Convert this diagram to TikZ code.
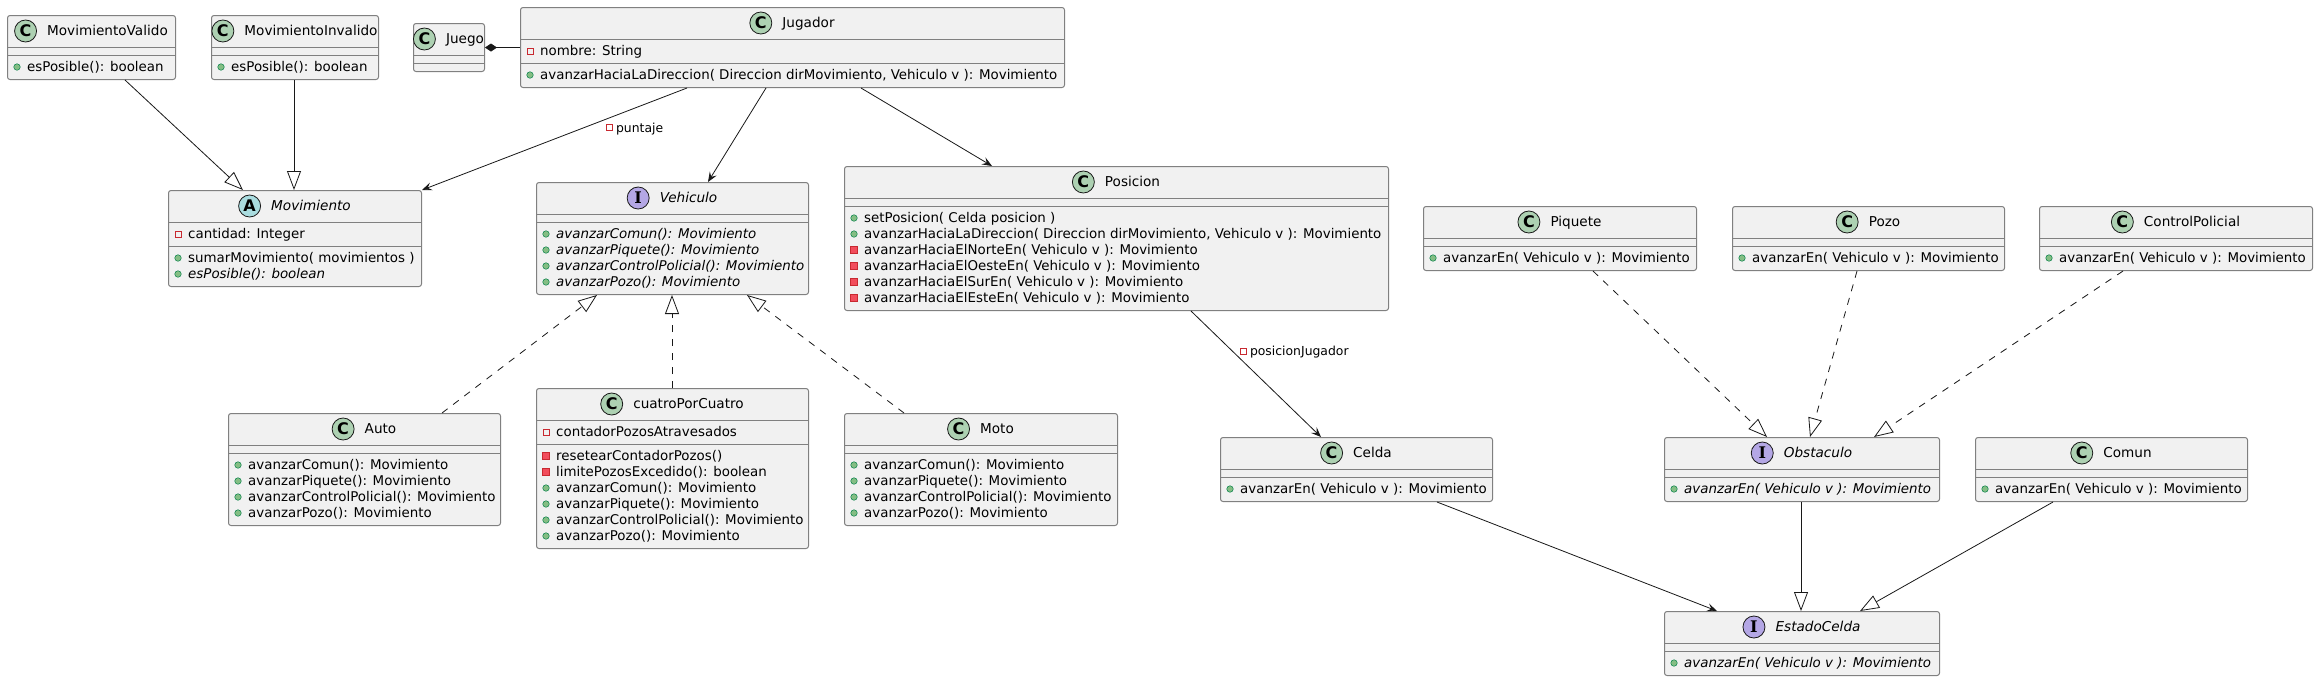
\documentclass[tikz,border=0pt]{standalone}
\usepackage{fontspec}
\setmainfont{DejaVu Sans}
\newfontfamily\iconserif{DejaVu Serif}
\usetikzlibrary{arrows.meta, positioning, shapes.geometric}

\definecolor{boxfill}{HTML}{F1F1F1}
\definecolor{boxline}{HTML}{181818}
\definecolor{clsC}{HTML}{ADD1B2}
\definecolor{clsI}{HTML}{B4A7E5}
\definecolor{clsA}{HTML}{A9DCDF}
\definecolor{pubfill}{HTML}{84BE84}
\definecolor{publine}{HTML}{038048}
\definecolor{privfill}{HTML}{F24D5C}
\definecolor{privline}{HTML}{C82930}

\tikzset{
  classbox/.style={draw=black!50, fill=boxfill, line width=1pt, rounded corners=2.5pt, inner sep=0pt},
  sepline/.style={draw=black!50, line width=1pt},
  clstitle/.style={inner sep=0pt, text height=9pt, text depth=0pt, font=\fontsize{13.6}{16}\selectfont},
  icon/.style={circle, draw=boxline, line width=0.8pt, minimum size=22pt, inner sep=0pt, font=\fontsize{16}{16}\selectfont\bfseries},
  iconC/.style={icon, fill=clsC},
  iconA/.style={icon, fill=clsA},
  iconI/.style={icon, fill=clsI, font=\fontsize{16}{16}\selectfont\iconserif\bfseries},
  member/.style={anchor=base west, inner sep=0pt, font=\fontsize{13.4}{16}\selectfont},
  vis pub/.style={circle, fill=pubfill, draw=publine, line width=0.5pt, minimum size=6.5pt, inner sep=0pt},
  vis priv/.style={rectangle, draw=privline, line width=0.8pt, minimum size=6pt, inner sep=0pt},
  vis privm/.style={rectangle, fill=privfill, draw=privline, line width=0.5pt, minimum size=7pt, inner sep=0pt},
  assoc/.style={draw=boxline, line width=0.8pt, -{Stealth[length=10pt, width=8pt, inset=4pt]}},
  extends/.style={draw=boxline, line width=0.8pt, -{Triangle[length=19pt, width=14pt, fill=white]}},
  realizes/.style={extends, dash pattern=on 7pt off 7pt},
  comp/.style={draw=boxline, line width=0.8pt, {Diamond[length=12pt, width=8pt]}-},
  edgelabel/.style={anchor=west, inner sep=0pt, text height=9pt, text depth=0pt, font=\fontsize{12.4}{14}\selectfont},
}

% #1 name, #2 top left, #3 width, #4 kind, #5 title, #6/#7 fields, #8/#9 methods
\newcommand{\umlclass}[9]{%
  \pgfmathsetmacro{\clsHA}{#6>0 ? 16*#6+8 : 8}%
  \pgfmathsetmacro{\clsHM}{#8>0 ? 16*#8+8 : 8}%
  \pgfmathsetmacro{\clsH}{32+\clsHA+\clsHM}%
  \node[classbox, minimum width=#3pt, minimum height=\clsH pt, anchor=north west] (#1) at (#2) {};
  \node[clstitle] (#1-name) at ([xshift=16pt, yshift=-16pt]#1.north) {#5};
  \node[icon#4, left=10pt of #1-name] (#1-icon) {#4};
  \draw[sepline] ([yshift=-32pt]#1.north west) -- ([yshift=-32pt]#1.north east);
  \draw[sepline] ([yshift=-32pt-\clsHA pt]#1.north west) -- ([yshift=-32pt-\clsHA pt]#1.north east);
  \ifnum#6>0
    \foreach \vis/\txt [count=\k from 0] in {#7}{
      \node[vis \vis] at ([xshift=10pt, yshift={-44pt-16pt*\k}]#1.north west) {};
      \node[member] at ([xshift=20pt, yshift={-48.5pt-16pt*\k}]#1.north west) {\txt};
    }
  \fi
  \ifnum#8>0
    \foreach \vis/\txt [count=\k from 0] in {#9}{
      \node[vis \vis] at ([xshift=10pt, yshift={-44pt-\clsHA pt-16pt*\k}]#1.north west) {};
      \node[member] at ([xshift=20pt, yshift={-48.5pt-\clsHA pt-16pt*\k}]#1.north west) {\txt};
    }
  \fi
}

\begin{document}
\begin{tikzpicture}[x=1pt, y=-1pt]
\fill[white] (0,0) rectangle (2318,681);

\umlclass{movvalido}{7,15}{168}{C}{MovimientoValido}{0}{}{1}{pub/esPosible(): boolean}
\umlclass{movinvalido}{211,15}{167}{C}{MovimientoInvalido}{0}{}{1}{pub/esPosible(): boolean}
\umlclass{juego}{413,23}{71}{C}{Juego}{0}{}{0}{}
\umlclass{jugador}{520,7}{544}{C}{Jugador}{1}{priv/nombre: String}{1}{
  pub/{avanzarHaciaLaDireccion( Direccion dirMovimiento, Vehiculo v ): Movimiento}}
\umlclass{movimiento}{168,190}{253}{A}{\itshape Movimiento}{1}{priv/cantidad: Integer}{2}{
  pub/sumarMovimiento( movimientos ),
  pub/\itshape esPosible(): boolean}
\umlclass{vehiculo}{536,182}{272}{I}{\itshape Vehiculo}{0}{}{4}{
  pub/\itshape avanzarComun(): Movimiento,
  pub/\itshape avanzarPiquete(): Movimiento,
  pub/\itshape avanzarControlPolicial(): Movimiento,
  pub/\itshape avanzarPozo(): Movimiento}
\umlclass{posicion}{844,166}{544}{C}{Posicion}{0}{}{6}{
  pub/setPosicion( Celda posicion ),
  pub/{avanzarHaciaLaDireccion( Direccion dirMovimiento, Vehiculo v ): Movimiento},
  privm/avanzarHaciaElNorteEn( Vehiculo v ): Movimiento,
  privm/avanzarHaciaElOesteEn( Vehiculo v ): Movimiento,
  privm/avanzarHaciaElSurEn( Vehiculo v ): Movimiento,
  privm/avanzarHaciaElEsteEn( Vehiculo v ): Movimiento}
\umlclass{auto}{228,413}{272}{C}{Auto}{0}{}{4}{
  pub/avanzarComun(): Movimiento,
  pub/avanzarPiquete(): Movimiento,
  pub/avanzarControlPolicial(): Movimiento,
  pub/avanzarPozo(): Movimiento}
\umlclass{cuatro}{536,388}{272}{C}{cuatroPorCuatro}{1}{priv/contadorPozosAtravesados}{6}{
  privm/resetearContadorPozos(),
  privm/limitePozosExcedido(): boolean,
  pub/avanzarComun(): Movimiento,
  pub/avanzarPiquete(): Movimiento,
  pub/avanzarControlPolicial(): Movimiento,
  pub/avanzarPozo(): Movimiento}
\umlclass{moto}{844,413}{273}{C}{Moto}{0}{}{4}{
  pub/avanzarComun(): Movimiento,
  pub/avanzarPiquete(): Movimiento,
  pub/avanzarControlPolicial(): Movimiento,
  pub/avanzarPozo(): Movimiento}
\umlclass{piquete}{1423,206}{273}{C}{Piquete}{0}{}{1}{pub/avanzarEn( Vehiculo v ): Movimiento}
\umlclass{pozo}{1732,206}{272}{C}{Pozo}{0}{}{1}{pub/avanzarEn( Vehiculo v ): Movimiento}
\umlclass{control}{2039,206}{273}{C}{ControlPolicial}{0}{}{1}{pub/avanzarEn( Vehiculo v ): Movimiento}
\umlclass{celda}{1220,437}{272}{C}{Celda}{0}{}{1}{pub/avanzarEn( Vehiculo v ): Movimiento}
\umlclass{obstaculo}{1664,437}{275}{I}{\itshape Obstaculo}{0}{}{1}{pub/\itshape avanzarEn( Vehiculo v ): Movimiento}
\umlclass{comun}{1975,437}{272}{C}{Comun}{0}{}{1}{pub/avanzarEn( Vehiculo v ): Movimiento}
\umlclass{estado}{1664,611}{275}{I}{\itshape EstadoCelda}{0}{}{1}{pub/\itshape avanzarEn( Vehiculo v ): Movimiento}

% relations
\draw[extends] (movvalido.south -| 125,0) -- (movimiento.north -| 243,0);
\draw[extends] (movinvalido.south -| 294,0) -- (movimiento.north -| 294,0);
\draw[comp] (juego.east) -- (jugador.west |- juego.east);
\draw[assoc] (jugador.south -| 687,0) -- node[edgelabel, pos=.39, xshift=32pt] (lblpuntaje) {puntaje} (movimiento.north east);
\node[vis priv, left=3pt of lblpuntaje] {};
\draw[assoc] (jugador.south -| 766,0) -- (vehiculo.north -| 708,0);
\draw[assoc] (jugador.south -| 861,0) -- (posicion.north -| 992,0);
\draw[assoc] (posicion.south -| 1191,0) -- node[edgelabel, pos=.32, xshift=17pt] (lblposicion) {posicionJugador} (celda.north -| 1321,0);
\node[vis priv, left=3pt of lblposicion] {};
\draw[realizes] (auto.north -| 442,0) -- (vehiculo.south -| 597,0);
\draw[realizes] (cuatro.north -| 672,0) -- (vehiculo.south -| 672,0);
\draw[realizes] (moto.north -| 904,0) -- (vehiculo.south -| 747,0);
\draw[realizes] (piquete.south -| 1593,0) -- (obstaculo.north -| 1767,0);
\draw[realizes] (pozo.south -| 1857,0) -- (obstaculo.north -| 1810,0);
\draw[realizes] (control.south -| 2123,0) -- (obstaculo.north -| 1874,0);
\draw[assoc] (celda.south -| 1437,0) -- (estado.north -| 1717,0);
\draw[extends] (obstaculo.south -| 1801,0) -- (estado.north -| 1801,0);
\draw[extends] (comun.south -| 2053,0) -- (estado.north -| 1860,0);
\end{tikzpicture}
\end{document}
